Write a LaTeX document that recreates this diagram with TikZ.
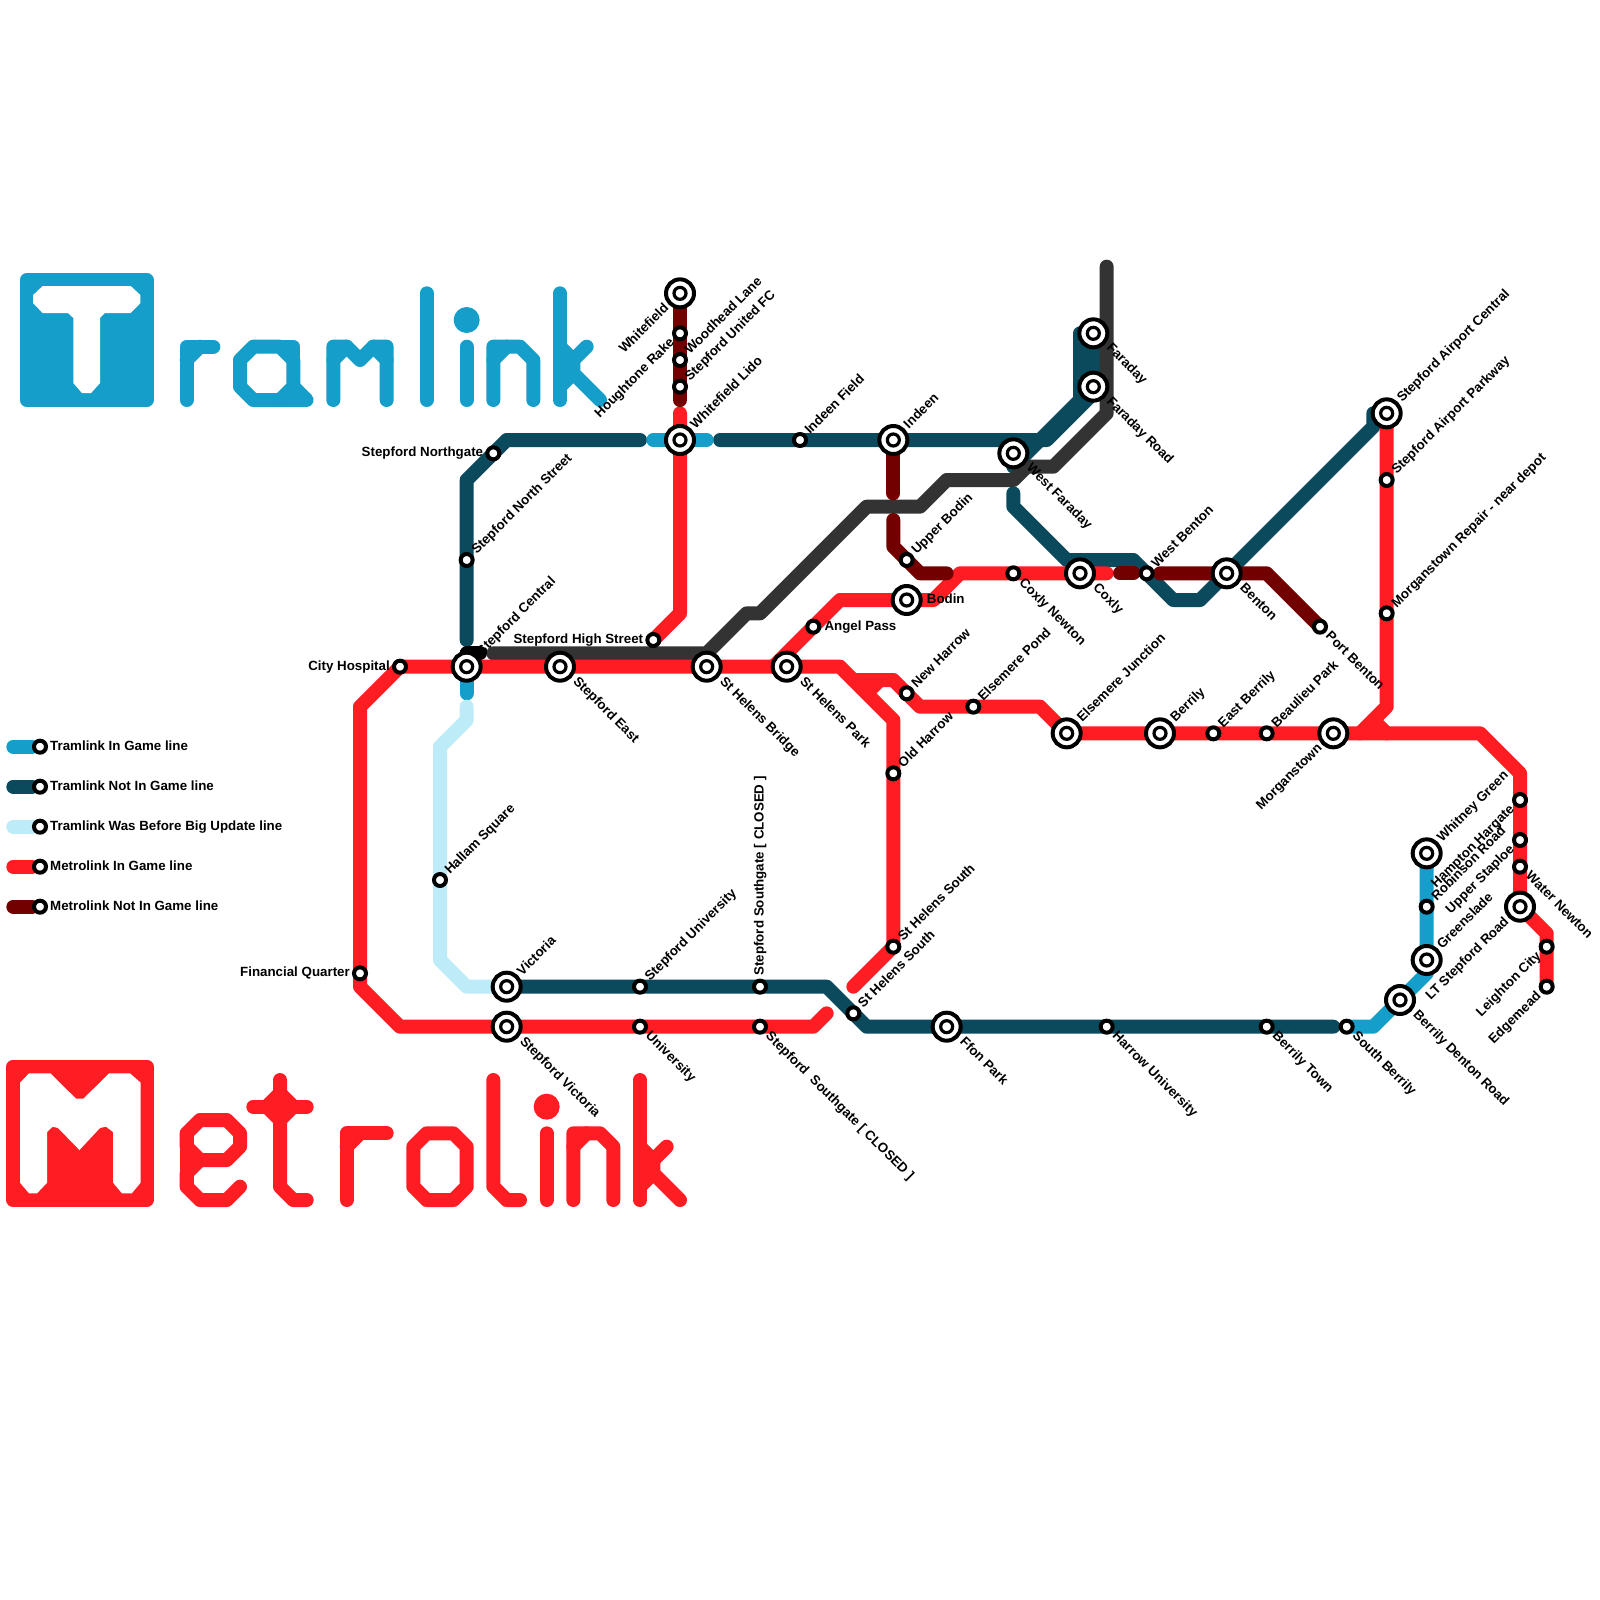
\documentclass[tikz,border=0pt]{standalone}
\usepackage{fontspec}
\setmainfont{Liberation Sans}
\definecolor{tramblue}{RGB}{21, 158, 201}
\definecolor{tramdark}{RGB}{11, 73, 92}
\definecolor{tramlight}{RGB}{190, 235, 248}
\definecolor{metrored}{RGB}{255, 29, 35}
\definecolor{metrodark}{RGB}{115, 0, 0}
\definecolor{greyline}{RGB}{51, 51, 51}
\usetikzlibrary{backgrounds}
\tikzset{
    routeline/.style={line width=14pt, line cap=round, line join=round},
    tramin/.style={routeline, draw=tramblue},
    tramout/.style={routeline, draw=tramdark},
    tramold/.style={routeline, draw=tramlight},
    metroin/.style={routeline, draw=metrored},
    metroout/.style={routeline, draw=metrodark},
    greyroute/.style={routeline, draw=greyline},
    blackroute/.style={routeline, draw=black},
    stnsmall/.style={circle, draw=black, line width=4pt, fill=white, minimum size=12pt, inner sep=0pt},
    stnbig/.style={circle, draw=black, line width=4pt, fill=white, minimum size=28pt, inner sep=0pt,
        path picture={\draw[black, line width=3.2pt] (path picture bounding box.center) circle (6pt);}},
    stnlabel/.style={font=\bfseries\fontsize{13.33}{14}\selectfont, inner sep=0pt, text=black, text height=10pt, text depth=3pt},
    smallne/.style={stnlabel, xshift=7.5pt, yshift=7.5pt, rotate=45, anchor=west},
    smallse/.style={stnlabel, xshift=7.5pt, yshift=-7.5pt, rotate=-45, anchor=west},
    smallsw/.style={stnlabel, xshift=-7.5pt, yshift=-7.5pt, rotate=45, anchor=east},
    smalle/.style={stnlabel, xshift=11pt, anchor=west},
    smallw/.style={stnlabel, xshift=-10pt, anchor=east},
    bigne/.style={stnlabel, xshift=13pt, yshift=13pt, rotate=45, anchor=west},
    bigse/.style={stnlabel, xshift=15pt, yshift=-13pt, rotate=-45, anchor=west},
    bigsw/.style={stnlabel, xshift=-13pt, yshift=-13pt, rotate=45, anchor=east},
    bige/.style={stnlabel, xshift=20pt, anchor=west},
    legendtext/.style={stnlabel, anchor=west},
}

\begin{document}
\begin{tikzpicture}[x=13.3333pt, y=-13.3333pt]
    % Tramlink stations, north to south
    \node[stnbig] (whitefield) at (51,22) {};
    \node[stnsmall] (houghtone) at (51,25) {};
    \node[stnsmall] (woodhead) at (51,27) {};
    \node[stnsmall] (unitedfc) at (51,29) {};
    \node[stnbig] (lido) at (51,33) {};
    \node[stnsmall] (indeenfield) at (60,33) {};
    \node[stnbig] (indeen) at (67,33) {};
    \node[stnbig] (faraday) at (82,25) {};
    \node[stnbig] (faradayroad) at (82,29) {};
    \node[stnbig] (westfaraday) at (76,34) {};
    \node[stnsmall] (northgate) at (37,34) {};
    \node[stnsmall] (northstreet) at (35,42) {};
    \node[stnbig] (stepcentral) at (35,50) {};
    \node[stnsmall] (hallam) at (33,66) {};
    \node[stnbig] (victoria) at (38,74) {};
    \node[stnsmall] (stepuni) at (48,74) {};
    \node[stnsmall] (southgatetop) at (57,74) {};
    \node[stnsmall] (helenssouthb) at (64,76) {};
    \node[stnbig] (ffon) at (71,77) {};
    \node[stnsmall] (harrowuni) at (83,77) {};
    \node[stnsmall] (berrilytown) at (95,77) {};
    \node[stnsmall] (southberrily) at (101,77) {};
    \node[stnbig] (dentonroad) at (105,75) {};
    \node[stnbig] (greenslade) at (107,72) {};
    \node[stnsmall] (robinson) at (107,68) {};
    \node[stnbig] (whitney) at (107,64) {};
    \node[stnbig] (airportcentral) at (104,31) {};
    \node[stnbig] (benton) at (92,43) {};
    \node[stnsmall] (westbenton) at (86,43) {};
    \node[stnbig] (coxly) at (81,43) {};

    % Metrolink stations
    \node[stnsmall] (upperbodin) at (68,42) {};
    \node[stnbig] (bodin) at (68,45) {};
    \node[stnsmall] (angelpass) at (61,47) {};
    \node[stnsmall] (highstreet) at (49,48) {};
    \node[stnsmall] (cityhospital) at (30,50) {};
    \node[stnbig] (stepeast) at (42,50) {};
    \node[stnbig] (helensbridge) at (53,50) {};
    \node[stnbig] (helenspark) at (59,50) {};
    \node[stnsmall] (newharrow) at (68,52) {};
    \node[stnsmall] (elsemerepond) at (73,53) {};
    \node[stnsmall] (oldharrow) at (67,58) {};
    \node[stnsmall] (helenssouth) at (67,71) {};
    \node[stnsmall] (finquarter) at (27,73) {};
    \node[stnbig] (stepvictoria) at (38,77) {};
    \node[stnsmall] (university) at (48,77) {};
    \node[stnsmall] (southgatelow) at (57,77) {};
    \node[stnsmall] (coxlynewton) at (76,43) {};
    \node[stnsmall] (portbenton) at (99,47) {};
    \node[stnsmall] (airportparkway) at (104,36) {};
    \node[stnsmall] (repairdepot) at (104,46) {};
    \node[stnbig] (elsemerejn) at (80,55) {};
    \node[stnbig] (berrily) at (87,55) {};
    \node[stnsmall] (eastberrily) at (91,55) {};
    \node[stnsmall] (beaulieu) at (95,55) {};
    \node[stnbig] (morganstown) at (100,55) {};
    \node[stnsmall] (hampton) at (114,60) {};
    \node[stnsmall] (staploe) at (114,63) {};
    \node[stnsmall] (waternewton) at (114,65) {};
    \node[stnbig] (ltstepford) at (114,68) {};
    \node[stnsmall] (leighton) at (116,71) {};
    \node[stnsmall] (edgemead) at (116,74) {};

    % Station labels
    \node[bigsw] (whitefieldlabel) at (whitefield) {Whitefield};
    \node[smallsw] (houghtonelabel) at (houghtone) {Houghtone Rake};
    \node[smallne] (woodheadlabel) at (woodhead) {Woodhead Lane};
    \node[smallne] (unitedfclabel) at (unitedfc) {Stepford United FC};
    \node[bigne] (lidolabel) at (lido) {Whitefield Lido};
    \node[smallne] (indeenfieldlabel) at (indeenfield) {Indeen Field};
    \node[bigne] (indeenlabel) at (indeen) {Indeen};
    \node[bigse] (faradaylabel) at (faraday) {Faraday};
    \node[bigse] (faradayroadlabel) at (faradayroad) {Faraday Road};
    \node[bigse] (westfaradaylabel) at (westfaraday) {West Faraday};
    \node[smallw] (northgatelabel) at (northgate) {Stepford Northgate};
    \node[smallne] (northstreetlabel) at (northstreet) {Stepford North Street};
    \node[bigne] (stepcentrallabel) at (stepcentral) {Stepford Central};
    \node[smallne] (hallamlabel) at (hallam) {Hallam Square};
    \node[bigne] (victorialabel) at (victoria) {Victoria};
    \node[smallne] (stepunilabel) at (stepuni) {Stepford University};
    \node[stnlabel, yshift=11pt, rotate=90, anchor=west] (southgatetoplabel) at (southgatetop) {Stepford Southgate [ CLOSED ]};
    \node[smallne] (helenssouthblabel) at (helenssouthb) {St Helens South};
    \node[bigse] (ffonlabel) at (ffon) {Ffon Park};
    \node[smallse] (harrowunilabel) at (harrowuni) {Harrow University};
    \node[smallse] (berrilytownlabel) at (berrilytown) {Berrily Town};
    \node[smallse] (southberrilylabel) at (southberrily) {South Berrily};
    \node[bigse] (dentonroadlabel) at (dentonroad) {Berrily Denton Road};
    \node[bigne] (greensladelabel) at (greenslade) {Greenslade};
    \node[smallne] (robinsonlabel) at (robinson) {Robinson Road};
    \node[bigne] (whitneylabel) at (whitney) {Whitney Green};
    \node[bigne] (airportcentrallabel) at (airportcentral) {Stepford Airport Central};
    \node[bigse] (bentonlabel) at (benton) {Benton};
    \node[smallne] (westbentonlabel) at (westbenton) {West Benton};
    \node[bigse] (coxlylabel) at (coxly) {Coxly};
    \node[smallne] (upperbodinlabel) at (upperbodin) {Upper Bodin};
    \node[bige] (bodinlabel) at (bodin) {Bodin};
    \node[smalle] (angelpasslabel) at (angelpass) {Angel Pass};
    \node[smallw] (highstreetlabel) at (highstreet) {Stepford High Street};
    \node[smallw] (cityhospitallabel) at (cityhospital) {City Hospital};
    \node[bigse] (stepeastlabel) at (stepeast) {Stepford East};
    \node[bigse] (helensbridgelabel) at (helensbridge) {St Helens Bridge};
    \node[bigse] (helensparklabel) at (helenspark) {St Helens Park};
    \node[smallne] (newharrowlabel) at (newharrow) {New Harrow};
    \node[smallne] (elsemerepondlabel) at (elsemerepond) {Elsemere Pond};
    \node[smallne] (oldharrowlabel) at (oldharrow) {Old Harrow};
    \node[smallne] (helenssouthlabel) at (helenssouth) {St Helens South};
    \node[smallw] (finquarterlabel) at (finquarter) {Financial Quarter};
    \node[bigse] (stepvictorialabel) at (stepvictoria) {Stepford Victoria};
    \node[smallse] (universitylabel) at (university) {University};
    \node[smallse] (southgatelowlabel) at (southgatelow) {Stepford\ \ Southgate [ CLOSED ]};
    \node[smallse] (coxlynewtonlabel) at (coxlynewton) {Coxly Newton};
    \node[smallse] (portbentonlabel) at (portbenton) {Port Benton};
    \node[smallne] (airportparkwaylabel) at (airportparkway) {Stepford Airport Parkway};
    \node[smallne] (repairdepotlabel) at (repairdepot) {Morganstown Repair - near depot};
    \node[bigne] (elsemerejnlabel) at (elsemerejn) {Elsemere Junction};
    \node[bigne] (berrilylabel) at (berrily) {Berrily};
    \node[smallne] (eastberrilylabel) at (eastberrily) {East Berrily};
    \node[smallne] (beaulieulabel) at (beaulieu) {Beaulieu Park};
    \node[bigsw] (morganstownlabel) at (morganstown) {Morganstown};
    \node[smallsw] (hamptonlabel) at (hampton) {Hampton Hargate};
    \node[smallsw] (staploelabel) at (staploe) {Upper Staploe};
    \node[smallse] (waternewtonlabel) at (waternewton) {Water Newton};
    \node[bigsw] (ltstepfordlabel) at (ltstepford) {LT Stepford Road};
    \node[smallsw] (leightonlabel) at (leighton) {Leighton City};
    \node[smallsw] (edgemeadlabel) at (edgemead) {Edgemead};

    % Legend
    \node[stnsmall] (legtramin) at (3,56) {};
    \node[stnsmall] (legtramout) at (3,59) {};
    \node[stnsmall] (legtramold) at (3,62) {};
    \node[stnsmall] (legmetroin) at (3,65) {};
    \node[stnsmall] (legmetroout) at (3,68) {};
    \coordinate (legatramin) at (1,56);
    \coordinate (legatramout) at (1,59);
    \coordinate (legatramold) at (1,62);
    \coordinate (legametroin) at (1,65);
    \coordinate (legametroout) at (1,68);
    \node[legendtext] (legtextA) at (3.75,56) {Tramlink In Game line};
    \node[legendtext] (legtextB) at (3.75,59) {Tramlink Not In Game line};
    \node[legendtext] (legtextC) at (3.75,62) {Tramlink Was Before Big Update line};
    \node[legendtext] (legtextD) at (3.75,65) {Metrolink In Game line};
    \node[legendtext] (legtextE) at (3.75,68) {Metrolink Not In Game line};

    % Free line ends
    \coordinate (darkwestend) at (48,33);
    \coordinate (darkeastend) at (54,33);
    \coordinate (bluewestend) at (49,33);
    \coordinate (blueeastend) at (53,33);
    \coordinate (darkcentralend) at (35,48);
    \coordinate (darkfaradayend) at (76,35);
    \coordinate (darkcoxlyend) at (76,37);
    \coordinate (darksouthend) at (100,77);
    \coordinate (bluestubend) at (35,52);
    \coordinate (oldtopend) at (35,53);
    \coordinate (greytopend) at (83,20);
    \coordinate (greywestend) at (37,49);
    \coordinate (redtopend) at (51,31);
    \coordinate (redsouthend) at (62,76);
    \coordinate (redmidend) at (64,74);
    \coordinate (redcoxlyend) at (83,43);
    \coordinate (maroontopend) at (51,30);
    \coordinate (maroonindeenend) at (67,37);
    \coordinate (maroonbodinstart) at (67,39);
    \coordinate (maroonbodinend) at (71,43);
    \coordinate (maroonwestA) at (84,43);
    \coordinate (maroonwestB) at (85,43);
    \coordinate (maroonbentonstart) at (87,43);
    \coordinate (blackA) at (35,49);
    \coordinate (blackB) at (36,49);

    \begin{scope}[on background layer]
        \path[fill=white, use as bounding box] (0,0) rectangle (120,120);

        % Tramlink logo
        \filldraw[tramin, fill=tramblue] (2,21) rectangle (11,30);
        \fill[white] (3.2,21.45) -- (9.8,21.45) -- (10.53,22.13) -- (10.53,22.73) -- (9.8,23.48) -- (7.86,23.48) -- (7.5,23.85) -- (7.5,28.73)
            -- (6.83,29.48) -- (6.15,29.48) -- (5.5,28.73) -- (5.5,23.85) -- (5.1,23.48) -- (3.2,23.48) -- (2.48,22.73) -- (2.48,22.13) -- cycle;
        \draw[tramin] (14,30) -- (14,26) -- (16,26);
        \draw[tramin] (14,27) -- (15,26);
        \draw[tramin] (19,26) -- (21,26) -- (22,27) -- (22,29) -- (21,30) -- (19,30) -- (18,29) -- (18,27) -- cycle;
        \draw[tramin] (21,26) -- (22,26) -- (22,27);
        \draw[tramin] (21,30) -- (23,30) -- (22,29);
        \draw[tramin] (25,30) -- (25,26) -- (26,26) -- (27,27) -- (28,26) -- (29,26) -- (29,30);
        \draw[tramin] (25,27) -- (26,26);
        \draw[tramin] (28,26) -- (29,27);
        \draw[tramin] (32,22) -- (32,30);
        \fill[tramblue] (35,24) circle (13pt);
        \draw[tramin] (35,26) -- (35,30);
        \draw[tramin] (37,30) -- (37,26) -- (39,26) -- (40,27) -- (40,30);
        \draw[tramin] (37,27) -- (38,26);
        \draw[tramin] (42,22) -- (42,30);
        \draw[tramin] (42,26) -- (43,27) -- (43,28) -- (45,30);
        \draw[tramin] (43,27) -- (44,26);
        \draw[tramin] (43,28) -- (42,29);

        % Metrolink logo
        \filldraw[metroin, fill=metrored] (1,80) rectangle (11,90);
        \fill[white] (2.18,80.5) -- (3.78,80.5) -- (5.7,82.4) -- (6.26,82.4) -- (8.18,80.5) -- (9.75,80.5) -- (10.55,81.2) -- (10.55,88.7)
            -- (9.88,89.5) -- (9.15,89.5) -- (8.48,88.7) -- (8.48,84.9) -- (7.95,84.5) -- (7.5,84.6) -- (5.96,86.25) -- (4.35,84.6) -- (3.95,84.5)
            -- (3.53,84.9) -- (3.53,88.7) -- (2.78,89.5) -- (2.18,89.5) -- (1.5,88.7) -- (1.5,81.2) -- cycle;
        \draw[metroin] (15,84) -- (17,84) -- (18,85) -- (18,86) -- (17,87) -- (15,87) -- (14,86) -- (14,85) -- cycle;
        \draw[metroin] (15,87) -- (14,88) -- (14,89) -- (15,90) -- (17,90) -- (18,89);
        \draw[metroin] (14,85) -- (14,89);
        \draw[metroin] (21,81) -- (21,89) -- (22,90) -- (23,90);
        \draw[metroin] (19,83) -- (23,83);
        \filldraw[metroin, fill=metrored] (20,83) -- (21,82) -- (22,83) -- (21,84) -- cycle;
        \draw[metroin] (26,90) -- (26,85) -- (29,85);
        \draw[metroin] (26,86) -- (27,85);
        \draw[metroin] (32,85) -- (34,85) -- (35,86) -- (35,89) -- (34,90) -- (32,90) -- (31,89) -- (31,86) -- cycle;
        \draw[metroin] (37,81) -- (37,89) -- (38,90) -- (39,90);
        \fill[metrored] (41,83) circle (13pt);
        \draw[metroin] (41,85) -- (41,90);
        \draw[metroin] (43,90) -- (43,85) -- (45,85) -- (46,86) -- (46,90);
        \draw[metroin] (43,86) -- (44,85);
        \draw[metroin] (48,81) -- (48,90);
        \draw[metroin] (48,86) -- (49,87) -- (49,88) -- (51,90);
        \draw[metroin] (49,87) -- (50,86);
        \draw[metroin] (49,88) -- (48,89);

        % Legend lines
        \draw[tramin] (legatramin) -- (legtramin);
        \draw[tramout] (legatramout) -- (legtramout);
        \draw[tramold] (legatramold) -- (legtramold);
        \draw[metroin] (legametroin) -- (legmetroin);
        \draw[metroout] (legametroout) -- (legmetroout);

        % Tramlink lines
        \draw[tramout] (darkcentralend) -- (northstreet.center) -- (35,36) -- (38,33) -- (darkwestend);
        \draw[tramout] (darkeastend) -- (indeenfield.center) -- (indeen.center) -- (78.5,33) -- (82,29.5) -- (faraday.center);
        \draw[tramout] (darkfaradayend) -- (81,30) -- (81,25) -- (faraday.center);
        \draw[tramout] (darkcoxlyend) -- (76,38) -- (80,42) -- (85,42) -- (88,45) -- (90,45) -- (103,32) -- (103,31) -- (airportcentral.center);
        \draw[tramout] (victoria.center) -- (stepuni.center) -- (southgatetop.center) -- (62,74) -- (helenssouthb.center) -- (65,77) -- (ffon.center) -- (harrowuni.center) -- (berrilytown.center) -- (darksouthend);
        \draw[tramin] (bluewestend) -- (blueeastend);
        \draw[tramin] (stepcentral.center) -- (bluestubend);
        \draw[tramin] (southberrily.center) -- (103,77) -- (dentonroad.center) -- (107,73) -- (greenslade.center) -- (robinson.center) -- (whitney.center);
        \draw[tramold] (oldtopend) -- (35,54) -- (33,56) -- (hallam.center) -- (33,72) -- (35,74) -- (victoria.center);

        % Grey line
        \draw[greyroute] (greytopend) -- (83,31) -- (79,35) -- (77,35) -- (76,36) -- (71,36) -- (69,38) -- (65,38) -- (57,46) -- (56,46) -- (53,49) -- (greywestend);

        % Metrolink lines
        \draw[metroin] (redsouthend) -- (61,77) -- (southgatelow.center) -- (university.center) -- (stepvictoria.center) -- (30,77) -- (27,74) -- (finquarter.center) -- (27,53) -- (cityhospital.center)
            -- (stepcentral.center) -- (stepeast.center) -- (helensbridge.center) -- (helenspark.center) -- (63,50) -- (67,54) -- (oldharrow.center) -- (helenssouth.center) -- (redmidend);
        \draw[metroin] (58,50) -- (angelpass.center) -- (63,45) -- (bodin.center) -- (70,45) -- (72,43) -- (coxlynewton.center) -- (coxly.center) -- (redcoxlyend);
        \draw[metroin] (64,51) -- (67,51) -- (newharrow.center) -- (69,53) -- (elsemerepond.center) -- (78,53) -- (elsemerejn.center) -- (berrily.center) -- (eastberrily.center) -- (beaulieu.center) -- (morganstown.center)
            -- (111,55) -- (114,58) -- (hampton.center) -- (staploe.center) -- (waternewton.center) -- (ltstepford.center) -- (116,70) -- (leighton.center) -- (edgemead.center);
        \draw[metroin] (65,52) -- (66,51);
        \draw[metroin] (airportcentral.center) -- (airportparkway.center) -- (repairdepot.center) -- (104,53) -- (102,55);
        \draw[metroin] (103,54) -- (104,55);
        \draw[metroin] (redtopend) -- (lido.center) -- (51,46) -- (highstreet.center);
        \draw[metroout] (whitefield.center) -- (houghtone.center) -- (woodhead.center) -- (unitedfc.center) -- (maroontopend);
        \draw[metroout] (indeen.center) -- (maroonindeenend);
        \draw[metroout] (maroonbodinstart) -- (67,41) -- (upperbodin.center) -- (69,43) -- (maroonbodinend);
        \draw[metroout] (maroonwestA) -- (maroonwestB);
        \draw[metroout] (maroonbentonstart) -- (benton.center) -- (95,43) -- (portbenton.center);

        % Black stub
        \draw[blackroute] (blackA) -- (blackB);
    \end{scope}
\end{tikzpicture}
\end{document}
